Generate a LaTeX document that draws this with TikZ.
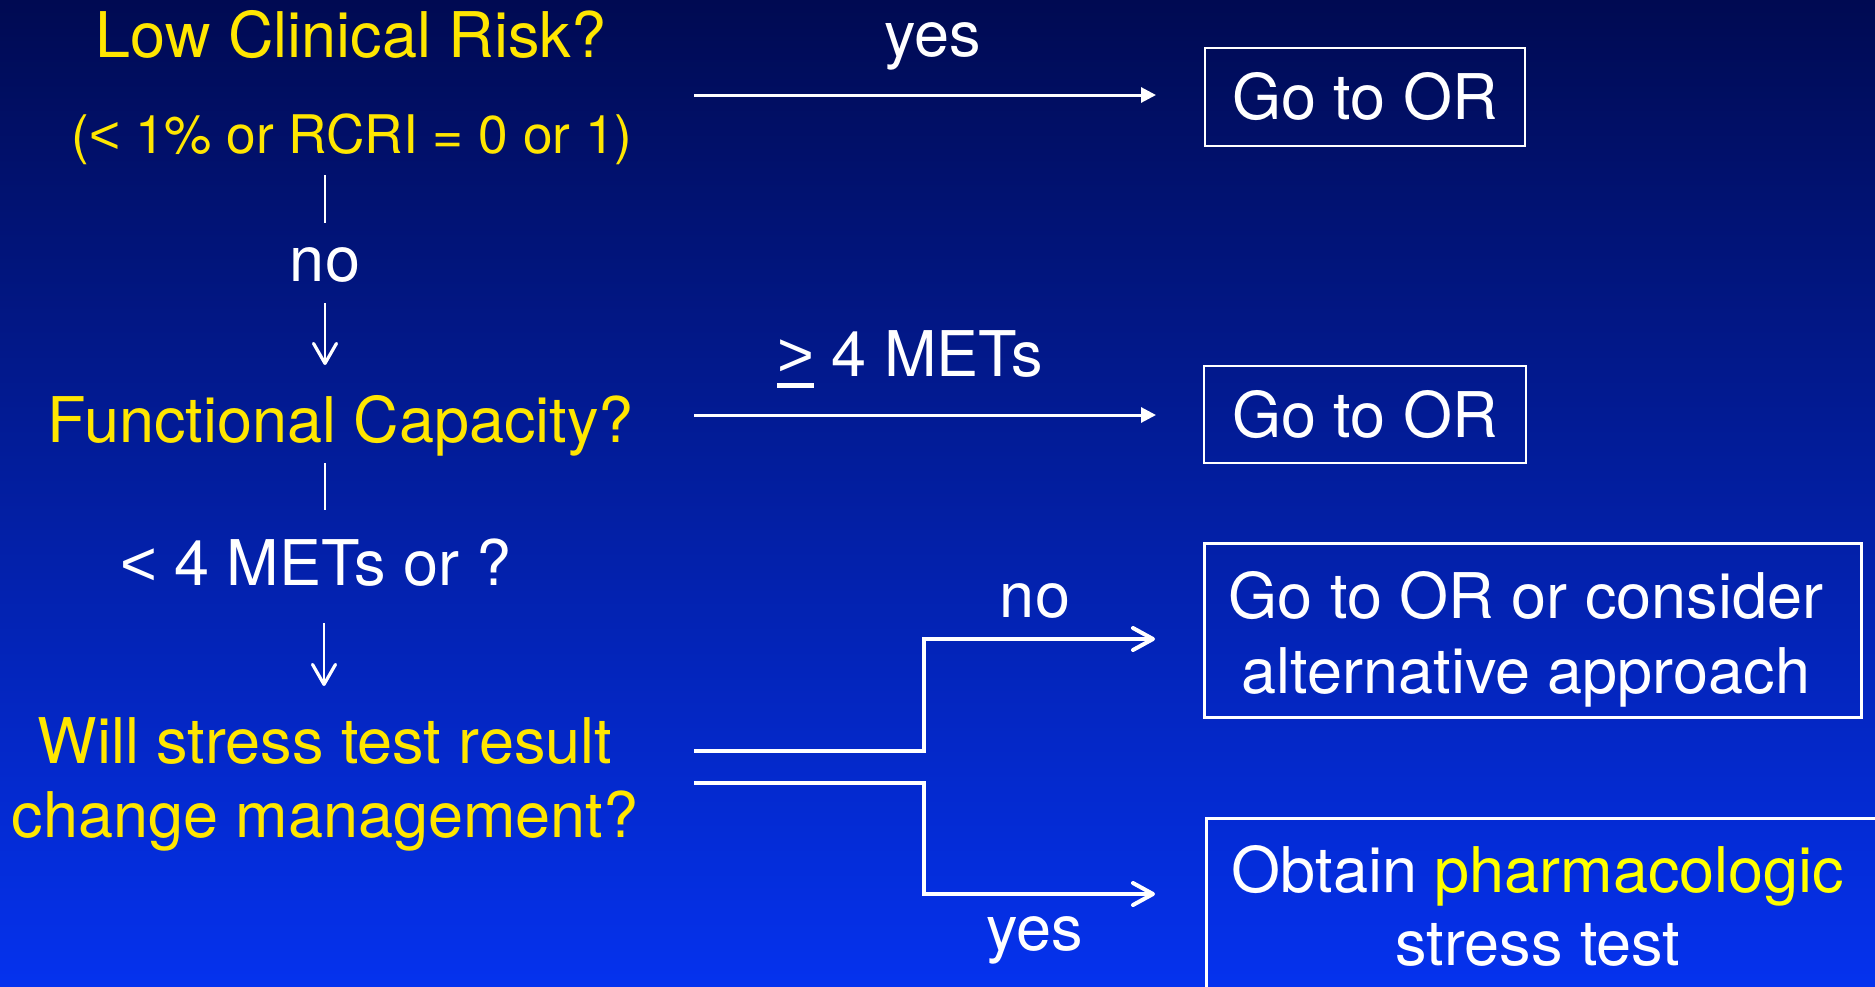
\documentclass[tikz,border=0pt]{standalone}
\usepackage{fontspec}
\setmainfont{TeX Gyre Heros}
\newfontfamily\libsans{Liberation Sans}
\usetikzlibrary{arrows.meta}
\definecolor{bgtop}{RGB}{0,10,82}
\definecolor{bgbot}{RGB}{5,50,238}
\definecolor{qyel}{RGB}{255,230,0}
\definecolor{hyel}{RGB}{255,255,0}
\newcommand\ulgt{\leavevmode\rlap{\rule[-6pt]{18.4pt}{2.5pt}}{\libsans >}}
\newcommand\ltsym{{\libsans <}}
\tikzset{
  big/.style={font=\fontsize{31.5}{37.5}\selectfont, inner sep=0pt},
  qtext/.style={big, text=qyel},
  lbl/.style={big, text=white},
  boxed/.style={draw=white, line width=1.3pt, inner sep=0pt},
  fillarrow/.style={draw=white, line width=1.5pt, -{Triangle[length=7.5pt,width=7.5pt]}},
  barbarrow/.style={draw=white, line width=1.6pt, line join=miter, -{Straight Barb[length=10pt,width=11pt,line width=2pt,round]}},
  vline/.style={draw=white, line width=1.1pt},
  downarrow/.style={vline, -{Straight Barb[length=10pt,width=11.5pt,line width=1.6pt,round]}},
}
\begin{document}
\begin{tikzpicture}[x=0.5pt,y=-0.5pt]
\useasboundingbox (0,0) rectangle (1875,986);
\fill[top color=bgtop, bottom color=bgbot] (0,0) rectangle (1875,986);
\begin{scope}
\clip (0,0) rectangle (1875,986);

% left column
\node[qtext, anchor=base] (lowrisk) at (351,57) {Low Clinical Risk?};
\node[qtext, font=\fontsize{26.6}{31}\selectfont, anchor=base] (rcri) at (352,153) {(\ltsym{} 1\% or RCRI = 0 or 1)};
\node[lbl, anchor=base] (no1) at (325,281) {no};
\node[qtext, anchor=base] (func) at (341,442) {Functional Capacity?};
\node[lbl, anchor=base] (lt4) at (316,585) {\ltsym{} 4 METs or ?};
\node[qtext, anchor=north, align=center, font=\fontsize{31.5}{37}\selectfont] (stress) at (325,717) {Will stress test result\\change management?};

% arrow labels
\node[lbl, anchor=base] (yes1) at (933,56) {yes};
\node[lbl, anchor=base] (ge4) at (910,376) {\ulgt\ 4 METs};
\node[lbl, anchor=base] (no2) at (1035,617) {no};
\node[lbl, anchor=base] (yes2) at (1035,950) {yes};

% boxes
\node[boxed, lbl, minimum width=160pt, minimum height=49pt] (or1) at (1365,97) {Go to OR};
\node[boxed, lbl, minimum width=161pt, minimum height=48.5pt] (or2) at (1365,414.5) {Go to OR};
\node[boxed, minimum width=328.5pt, minimum height=87pt] (or3) at (1533,630.5) {};
\node[lbl, anchor=north, align=center] (or3t) at (1526,571) {Go to OR or consider\\alternative approach};
\node[boxed, anchor=north west, minimum width=400pt, minimum height=120pt] (pharm) at (1205,817) {};
\node[lbl, anchor=north, align=center, font=\fontsize{31.5}{36.5}\selectfont] (pharmt) at (1538,845) {Obtain \textcolor{hyel}{pharmacologic}\\stress test};

% connector end points
\coordinate (v1a) at (325,175);
\coordinate (v1b) at (325,223);
\coordinate (v2a) at (325,303);
\coordinate (v2b) at (325,365);
\coordinate (v3a) at (325,463);
\coordinate (v3b) at (325,510);
\coordinate (v4a) at (324,623);
\coordinate (v4b) at (324,686);
\coordinate (a1s) at (694,95);
\coordinate (a1e) at (1156,95);
\coordinate (a2s) at (694,415);
\coordinate (a2e) at (1156,415);
\coordinate (e1s) at (694,751);
\coordinate (e1e) at (1155,639);
\coordinate (e2s) at (694,783);
\coordinate (e2e) at (1155,894);

% connectors
\draw[vline] (v1a) -- (v1b);
\draw[downarrow] (v2a) -- (v2b);
\draw[vline] (v3a) -- (v3b);
\draw[downarrow] (v4a) -- (v4b);
\draw[fillarrow] (a1s) -- (a1e);
\draw[fillarrow] (a2s) -- (a2e);
\draw[barbarrow] (e1s) -- ++(230,0) |- (e1e);
\draw[barbarrow] (e2s) -- ++(230,0) |- (e2e);
\end{scope}
\end{tikzpicture}
\end{document}
